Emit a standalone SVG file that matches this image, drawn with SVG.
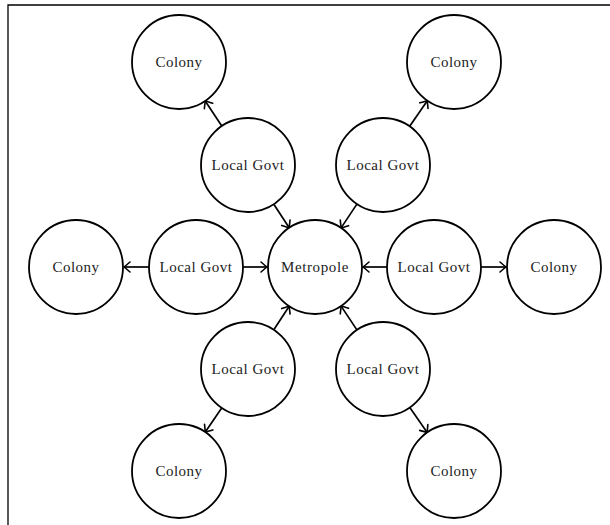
<svg xmlns="http://www.w3.org/2000/svg" width="610" height="525" viewBox="0 0 610 525">
  <style>
    .node circle { fill: #ffffff; stroke: #000000; stroke-width: 1.8; }
    .node text { font-family: "Liberation Serif", "DejaVu Serif", serif; font-size: 15px; fill: #222222; text-anchor: middle; dominant-baseline: central; }
    .lg text { letter-spacing: 0.5px; }
    .edge { stroke: #000000; stroke-width: 1.7; fill: none; marker-end: url(#tip); }
    .frame { stroke: #000000; stroke-width: 1.3; fill: none; }
  </style>
  <defs>
    <marker id="tip" markerUnits="userSpaceOnUse" markerWidth="14" markerHeight="14" refX="0" refY="0" viewBox="-8 -7 10 14" orient="auto" overflow="visible">
      <path d="M -6 -5 Q -1.5 -1.2 0 0 Q -1.5 1.2 -6 5" fill="none" stroke="#000000" stroke-width="1.6" stroke-linecap="round"/>
    </marker>
  </defs>

  <rect width="610" height="525" fill="#ffffff"/>
  <!-- page frame (top and left edges) -->
  <path class="frame" d="M 8 525 L 8 5 L 610 5"/>

  <!-- connectors -->
  <g id="edges">
    <line class="edge" x1="243" y1="267" x2="267" y2="267"/>
    <line class="edge" x1="149" y1="267" x2="124" y2="267"/>
    <line class="edge" x1="387" y1="267" x2="363" y2="267"/>
    <line class="edge" x1="481" y1="267" x2="506" y2="267"/>
    <line class="edge" x1="273.8" y1="204.3" x2="289.2" y2="227.7"/>
    <line class="edge" x1="221.8" y1="126" x2="205.2" y2="101"/>
    <line class="edge" x1="356.9" y1="204.1" x2="341.1" y2="227.9"/>
    <line class="edge" x1="409.7" y1="126.3" x2="427.3" y2="100.7"/>
    <line class="edge" x1="273.8" y1="329.7" x2="289.2" y2="306.3"/>
    <line class="edge" x1="221.7" y1="407.9" x2="205.3" y2="432.1"/>
    <line class="edge" x1="356.9" y1="329.9" x2="341.1" y2="306.1"/>
    <line class="edge" x1="409.8" y1="407.6" x2="427.2" y2="432.4"/>
  </g>

  <!-- hub -->
  <g id="metropole" class="node"><circle cx="315" cy="267" r="47"/><text x="315" y="267" style="letter-spacing:0.6px">Metropole</text></g>

  <!-- local governments -->
  <g id="govt-left" class="node lg"><circle cx="196" cy="267" r="47"/><text x="196" y="267">Local Govt</text></g>
  <g id="govt-right" class="node lg"><circle cx="434" cy="267" r="47"/><text x="434" y="267">Local Govt</text></g>
  <g id="govt-upper-left" class="node lg"><circle cx="248" cy="165" r="47"/><text x="248" y="165">Local Govt</text></g>
  <g id="govt-upper-right" class="node lg"><circle cx="383" cy="165" r="47"/><text x="383" y="165">Local Govt</text></g>
  <g id="govt-lower-left" class="node lg"><circle cx="248" cy="369" r="47"/><text x="248" y="369">Local Govt</text></g>
  <g id="govt-lower-right" class="node lg"><circle cx="383" cy="369" r="47"/><text x="383" y="369">Local Govt</text></g>

  <!-- colonies -->
  <g id="colony-left" class="node"><circle cx="76" cy="267" r="47"/><text x="76" y="267" style="letter-spacing:0.5px">Colony</text></g>
  <g id="colony-right" class="node"><circle cx="554" cy="267" r="47"/><text x="554" y="267" style="letter-spacing:0.5px">Colony</text></g>
  <g id="colony-upper-left" class="node"><circle cx="179" cy="62" r="47"/><text x="179" y="62" style="letter-spacing:0.5px">Colony</text></g>
  <g id="colony-upper-right" class="node"><circle cx="454" cy="62" r="47"/><text x="454" y="62" style="letter-spacing:0.5px">Colony</text></g>
  <g id="colony-lower-left" class="node"><circle cx="179" cy="471" r="47"/><text x="179" y="471" style="letter-spacing:0.5px">Colony</text></g>
  <g id="colony-lower-right" class="node"><circle cx="454" cy="471" r="47"/><text x="454" y="471" style="letter-spacing:0.5px">Colony</text></g>
</svg>
